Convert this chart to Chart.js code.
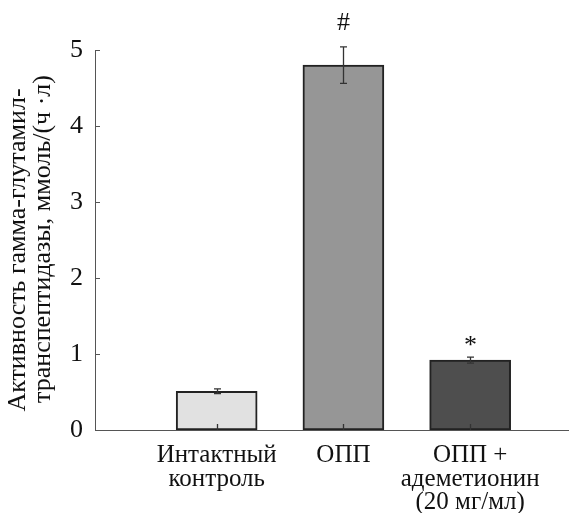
<!DOCTYPE html>
<html>
<head>
<meta charset="utf-8">
<script src="https://cdn.jsdelivr.net/npm/chart.js@4"></script>
<style>
  html, body { margin: 0; padding: 0; background: #fff; }
  #wrap { width: 569px; height: 513px; }
</style>
</head>
<body>
<div id="wrap"><canvas id="ggtChart"></canvas></div>
<script>
const groups = [['Интактный', 'контроль'], ['ОПП'], ['ОПП +', 'адеметионин', '(20 мг/мл)']];
const activity = [0.51, 4.80, 0.92];
const errors = [0.03, 0.24, 0.04];
const marks = ['', '#', '*'];
const yTicks = [0, 1, 2, 3, 4, 5];
const yTitle = ['Активность гамма-глутамил-', 'транспептидазы, ммоль/(ч ·л)'];

const serif = '"Liberation Serif", "DejaVu Serif", serif';

// draws text so that the glyph itself is centred on (x, cy)
function centredGlyph(ctx, s, x, cy) {
  ctx.textBaseline = 'alphabetic';
  const m = ctx.measureText(s);
  ctx.fillText(s, x, cy + (m.actualBoundingBoxAscent - m.actualBoundingBoxDescent) / 2);
}

// error bars, inward ticks, significance marks and the axis title
const extras = {
  id: 'extras',
  afterDatasetsDraw(chart) {
    const { ctx, chartArea } = chart;
    const x = chart.scales.x, y = chart.scales.y;
    ctx.save();
    ctx.strokeStyle = '#333';
    ctx.lineWidth = 1.3;
    activity.forEach((v, i) => {
      const px = Math.round(x.getPixelForValue(i + 1)) + 0.5;
      const top = y.getPixelForValue(v + errors[i]);
      const bot = y.getPixelForValue(v - errors[i]);
      ctx.beginPath();
      ctx.moveTo(px, top); ctx.lineTo(px, bot);
      ctx.moveTo(px - 3.5, top); ctx.lineTo(px + 3.5, top);
      ctx.moveTo(px - 3.5, bot); ctx.lineTo(px + 3.5, bot);
      ctx.moveTo(px, chartArea.bottom); ctx.lineTo(px, chartArea.bottom - 6);
      ctx.stroke();
      if (marks[i]) {
        ctx.fillStyle = '#111';
        ctx.font = '26px ' + serif;
        ctx.textAlign = 'center';
        centredGlyph(ctx, marks[i], px, top - (marks[i] === '*' ? 16 : 25));
      }
    });
    ctx.strokeStyle = '#555';
    ctx.lineWidth = 1;
    yTicks.forEach(t => {
      const py = Math.round(y.getPixelForValue(t)) + 0.5;
      ctx.beginPath();
      ctx.moveTo(chartArea.left, py); ctx.lineTo(chartArea.left + 5, py);
      ctx.stroke();
    });
    ctx.rotate(-Math.PI / 2);
    ctx.fillStyle = '#111';
    ctx.font = '26px ' + serif;
    ctx.textAlign = 'center';
    ctx.textBaseline = 'alphabetic';
    ctx.fillText(yTitle[0], -250, 25);
    ctx.fillText(yTitle[1], -239, 50);
    ctx.restore();
  }
};

document.addEventListener('DOMContentLoaded', () => {
  const ctx = document.getElementById('ggtChart').getContext('2d');
  new Chart(ctx, {
    type: 'bar',
    data: {
      datasets: [{
        data: activity.map((v, i) => ({ x: i + 1, y: v })),
        backgroundColor: ['#e1e1e1', '#969696', '#4e4e4e'],
        borderColor: '#222',
        borderWidth: 2,
        borderSkipped: false,
        barThickness: 81
      }]
    },
    options: {
      responsive: true,
      maintainAspectRatio: false,
      animation: false,
      layout: { padding: { top: 50, right: 0, left: 0, bottom: 0 } },
      plugins: { legend: { display: false }, tooltip: { enabled: false } },
      scales: {
        x: {
          type: 'linear',
          offset: false,
          min: 0.04,
          max: 3.78,
          afterBuildTicks: scale => { scale.ticks = groups.map((g, i) => ({ value: i + 1 })); },
          afterFit: scale => { scale.height = 83; },
          ticks: {
            callback: (value) => groups[value - 1] || '',
            color: '#111',
            font: { family: serif, size: 25, lineHeight: 0.94 },
            padding: 14,
            maxRotation: 0,
            autoSkip: false
          },
          grid: { display: false, drawTicks: false },
          border: { color: '#555', width: 1 }
        },
        y: {
          min: 0,
          max: 5,
          afterBuildTicks: scale => { scale.ticks = yTicks.map(v => ({ value: v })); },
          afterFit: scale => { scale.width = 95; },
          ticks: {
            color: '#111',
            font: { family: serif, size: 26 },
            padding: 12
          },
          grid: { display: false, drawTicks: false },
          border: { color: '#555', width: 1 }
        }
      }
    },
    plugins: [extras]
  });
});
</script>
</body>
</html>
